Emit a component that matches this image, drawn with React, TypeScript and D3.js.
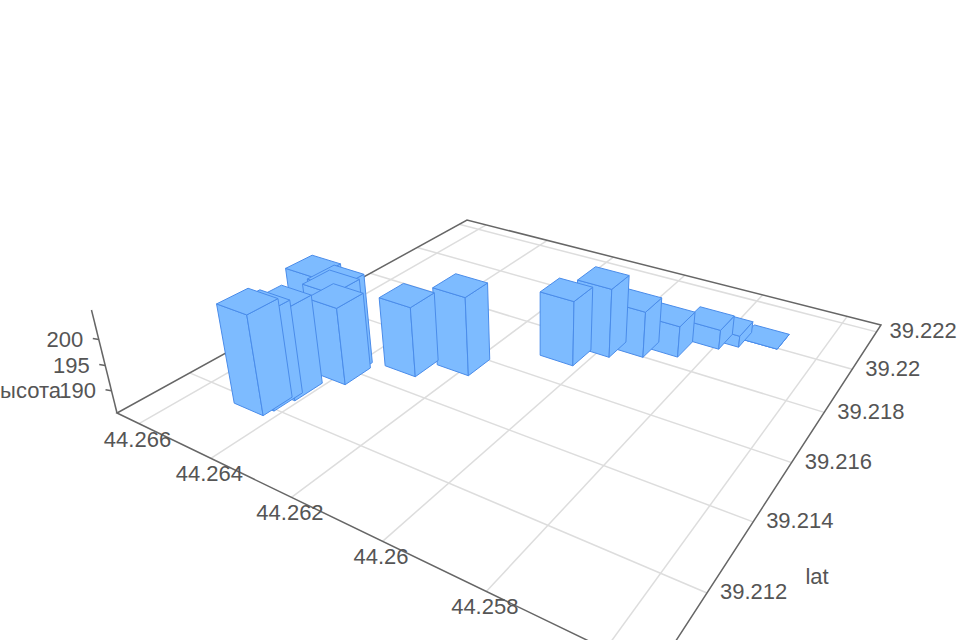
import * as d3 from 'd3';

// values
const lonTicks = [44.266, 44.264, 44.262, 44.26, 44.258, 44.256];
const latTicks = [39.212, 39.214, 39.216, 39.218, 39.22, 39.222];
const heightTicks = [190, 195, 200];

const barLon = [44.26462, 44.26456, 44.26448, 44.26405, 44.26418, 44.26416, 44.26503, 44.26305, 44.26216, 44.26056, 44.26009, 44.25949, 44.25888, 44.25828, 44.25778, 44.25723];
const barLat = [39.21211, 39.21235, 39.21286, 39.2139, 39.21397, 39.2141, 39.21437, 39.21497, 39.21563, 39.21722, 39.21798, 39.21839, 39.21882, 39.21965, 39.21998, 39.22037];
const barHeight = [205, 204, 203.3, 201, 203.2, 203.8, 203, 199.7, 201.5, 198.9, 199.8, 195.1, 192, 189.6, 187.9, 185.5];
const barLonSpan = [0.0008, 0.0008, 0.0008, 0.0008, 0.0008, 0.0008, 0.0008, 0.0008, 0.0008, 0.0008, 0.0008, 0.0008, 0.0008, 0.0008, 0.00045, 0.0008];
const latSpan = 0.00082;

const width = 960;
const height = 640;

const lonScale = d3.scaleLinear().domain([44.26666, 44.25525]).range([0, 1]);
const latScale = d3.scaleLinear().domain([39.21014, 39.2224]).range([0, 1]);
const heightScale = d3.scaleLinear().domain([185.5, 205.5]).range([0, -0.0569]);

// floor corners on screen and the point where the verticals meet
const corner = { left: [117, 413], front: [655, 673], right: [881, 325], back: [467, 220] };
const vanish = [540, 2120];

const dx1 = corner.front[0] - corner.right[0];
const dx2 = corner.back[0] - corner.right[0];
const sx = corner.left[0] - corner.front[0] + corner.right[0] - corner.back[0];
const dy1 = corner.front[1] - corner.right[1];
const dy2 = corner.back[1] - corner.right[1];
const sy = corner.left[1] - corner.front[1] + corner.right[1] - corner.back[1];
const den = dx1 * dy2 - dx2 * dy1;
const g = (sx * dy2 - dx2 * sy) / den;
const h = (dx1 * sy - sx * dy1) / den;
const a = corner.front[0] - corner.left[0] + g * corner.front[0];
const b = corner.back[0] - corner.left[0] + h * corner.back[0];
const d = corner.front[1] - corner.left[1] + g * corner.front[1];
const e = corner.back[1] - corner.left[1] + h * corner.back[1];

function project(lon: number, lat: number, z: number): [number, number] {
  const u = lonScale(lon);
  const v = latScale(lat);
  const s = heightScale(z);
  const w = g * u + h * v + 1 + s;
  return [
    (a * u + b * v + corner.left[0] + vanish[0] * s) / w,
    (d * u + e * v + corner.left[1] + vanish[1] * s) / w,
  ];
}

const poly = d3.line().curve(d3.curveLinearClosed);

// painted from the far lat side to the near one
const bars = d3
  .range(barLon.length)
  .sort((p, q) => barLat[q] - barLat[p])
  .map((i) => {
    const lonHi = barLon[i] + barLonSpan[i] / 2;
    const lonLo = barLon[i] - barLonSpan[i] / 2;
    const latHi = barLat[i] + latSpan / 2;
    const latLo = barLat[i] - latSpan / 2;
    const z0 = 185.5;
    const z1 = barHeight[i];
    return [
      [project(lonHi, latLo, z0), project(lonLo, latLo, z0), project(lonLo, latLo, z1), project(lonHi, latLo, z1)],
      [project(lonLo, latLo, z0), project(lonLo, latHi, z0), project(lonLo, latHi, z1), project(lonLo, latLo, z1)],
      [project(lonHi, latLo, z1), project(lonLo, latLo, z1), project(lonLo, latHi, z1), project(lonHi, latHi, z1)],
    ];
  });

const lonMax = lonScale.domain()[0];
const lonMin = lonScale.domain()[1];
const latMin = latScale.domain()[0];
const latMax = latScale.domain()[1];
const zMin = heightScale.domain()[0];
const zMax = heightScale.domain()[1];

const textStyle = { fontFamily: '"Liberation Sans", Arial, sans-serif', fontSize: 22, fill: '#555' };

export default function App() {
  const floor = [
    project(lonMax, latMin, zMin),
    project(lonMin, latMin, zMin),
    project(lonMin, latMax, zMin),
    project(lonMax, latMax, zMin),
  ];
  const zBottom = project(lonMax, latMin, zMin);
  const zTop = project(lonMax, latMin, zMax);

  return (
    <svg width={width} height={height} style={{ position: 'fixed', left: 0, top: 0 }}>
      <rect width={width} height={height} fill="#fff" />

      {lonTicks.map((t) => {
        const p = project(t, latMin, zMin);
        const q = project(t, latMax, zMin);
        return <line key={t} x1={p[0]} y1={p[1]} x2={q[0]} y2={q[1]} stroke="#ddd" strokeWidth={1.5} />;
      })}
      {latTicks.map((t) => {
        const p = project(lonMin, t, zMin);
        const q = project(lonMax, t, zMin);
        return <line key={t} x1={p[0]} y1={p[1]} x2={q[0]} y2={q[1]} stroke="#ddd" strokeWidth={1.5} />;
      })}

      <path d={poly(floor) as string} fill="none" stroke="#666" strokeWidth={1.5} />
      <line x1={zBottom[0]} y1={zBottom[1]} x2={zTop[0]} y2={zTop[1]} stroke="#666" strokeWidth={1.5} />

      {heightTicks.map((t) => {
        const p = project(lonMax, latMin, t);
        return (
          <g key={t}>
            <line x1={p[0] - 6} y1={p[1] - 1} x2={p[0]} y2={p[1]} stroke="#666" strokeWidth={1.5} />
            <text x={p[0] - 15.5} y={p[1]} textAnchor="end" dominantBaseline="central" style={textStyle}>
              {t}
            </text>
          </g>
        );
      })}

      {bars.map((faces, i) => (
        <g key={i}>
          {faces.map((face, j) => (
            <path key={j} d={poly(face as [number, number][]) as string} fill="#7dbbff" stroke="#4a8cea" strokeWidth={1} strokeLinejoin="round" />
          ))}
        </g>
      ))}

      {lonTicks.slice(0, 5).map((t) => {
        const p = project(t, latMin, zMin);
        return (
          <text key={t} x={p[0] - 1.5} y={p[1] + 15.5} textAnchor="middle" dominantBaseline="central" style={textStyle}>
            {t}
          </text>
        );
      })}
      {latTicks.map((t) => {
        const p = project(lonMin, t, zMin);
        return (
          <text key={t} x={p[0] + 13} y={p[1] - 1} textAnchor="start" dominantBaseline="central" style={textStyle}>
            {t}
          </text>
        );
      })}

      <text x={817} y={576} textAnchor="middle" dominantBaseline="central" style={textStyle}>
        lat
      </text>
      <text x={61} y={390} textAnchor="end" dominantBaseline="central" style={textStyle}>
        высота
      </text>
    </svg>
  );
}
